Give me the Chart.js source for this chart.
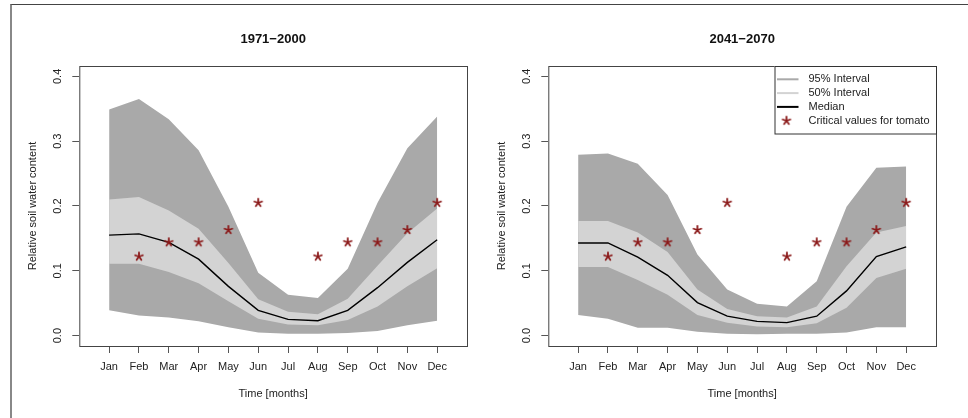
<!DOCTYPE html>
<html>
<head>
<meta charset="utf-8">
<script src="https://cdn.jsdelivr.net/npm/chart.js@4"></script>
<style>
    html, body { margin: 0; padding: 0; background: #fff; }
    body { width: 968px; height: 418px; position: relative; overflow: hidden; }
    #frame { position: absolute; left: 10px; top: 4px; width: 960px; height: 420px;
             border-top: 1px solid #444; border-left: 2px solid #888; }
    canvas { position: absolute; top: 0; }
    #left { left: 15px; }
    #right { left: 484px; }
</style>
</head>
<body>
<div id="frame"></div>
<canvas id="left" width="470" height="418"></canvas>
<canvas id="right" width="470" height="418"></canvas>
<script>
const MONTHS = ["Jan", "Feb", "Mar", "Apr", "May", "Jun", "Jul", "Aug", "Sep", "Oct", "Nov", "Dec"];
const Y_TICKS = [0, 0.1, 0.2, 0.3, 0.4];

// critical soil water values for tomato (same on both panels)
const CRITICAL = [null, 0.122, 0.144, 0.144, 0.163, 0.205, null, 0.122, 0.144, 0.144, 0.163, 0.205];

// 1971-2000
const P1_LO95 = [0.039, 0.031, 0.028, 0.022, 0.013, 0.005, 0.003, 0.003, 0.004, 0.007, 0.016, 0.023];
const P1_LO50 = [0.111, 0.111, 0.098, 0.081, 0.053, 0.026, 0.017, 0.016, 0.024, 0.045, 0.076, 0.104];
const P1_MED = [0.155, 0.157, 0.144, 0.118, 0.076, 0.039, 0.025, 0.023, 0.039, 0.074, 0.113, 0.148];
const P1_HI50 = [0.210, 0.214, 0.193, 0.165, 0.112, 0.056, 0.037, 0.033, 0.057, 0.108, 0.158, 0.196];
const P1_HI95 = [0.349, 0.365, 0.334, 0.286, 0.199, 0.097, 0.063, 0.058, 0.103, 0.205, 0.289, 0.338];

// 2041-2070
const P2_LO95 = [0.032, 0.026, 0.012, 0.012, 0.006, 0.003, 0.002, 0.003, 0.003, 0.005, 0.013, 0.013];
const P2_LO50 = [0.106, 0.106, 0.086, 0.063, 0.032, 0.020, 0.014, 0.013, 0.019, 0.043, 0.089, 0.103];
const P2_MED = [0.143, 0.143, 0.121, 0.093, 0.051, 0.030, 0.022, 0.020, 0.030, 0.069, 0.122, 0.137];
const P2_HI50 = [0.177, 0.177, 0.159, 0.129, 0.071, 0.041, 0.030, 0.028, 0.045, 0.107, 0.159, 0.169];
const P2_HI95 = [0.279, 0.281, 0.265, 0.217, 0.125, 0.071, 0.049, 0.045, 0.084, 0.199, 0.259, 0.261];

const COL95 = "#a9a9a9";
const COL50 = "#d3d3d3";
const STAR_COL = "#8b1a1a";
const FONT = "'Liberation Sans', Arial, Helvetica, sans-serif";

Chart.defaults.font.family = FONT;
Chart.defaults.color = "#222";

// five spoke asterisk like R's "*"
const makeStar = (r) => {
    const c = document.createElement("canvas");
    c.width = c.height = r * 2 + 4;
    const g = c.getContext("2d");
    g.strokeStyle = STAR_COL;
    g.lineWidth = 1.8;
    g.lineCap = "round";
    const m = r + 2;
    for (let k = 0; k < 5; k++) {
        const a = -Math.PI / 2 + k * 2 * Math.PI / 5;
        g.beginPath();
        g.moveTo(m, m);
        g.lineTo(m + r * Math.cos(a), m + r * Math.sin(a));
        g.stroke();
    }
    return c;
};
const STAR = makeStar(4);

const toXY = (arr) => arr.map((v, i) => ({ x: i + 1, y: v }));

const band = (data, color, fill, order) => ({
    data: toXY(data),
    borderWidth: 0,
    pointRadius: 0,
    backgroundColor: color,
    borderColor: color,
    fill,
    order,
});

const boxPlugin = {
    id: "box",
    afterDraw(chart, args, opts) {
        const { ctx, chartArea: a } = chart;
        ctx.save();
        ctx.strokeStyle = "#444";
        ctx.lineWidth = 1;
        ctx.strokeRect(a.left + 0.5, a.top + 0.5, a.right - a.left, a.bottom - a.top);
        ctx.fillStyle = "#111";
        ctx.font = "bold 13px " + FONT;
        ctx.textAlign = "center";
        ctx.textBaseline = "middle";
        ctx.fillText(opts.title, (a.left + a.right) / 2, 39);
        ctx.restore();
    },
};

const legendPlugin = {
    id: "boxLegend",
    afterDraw(chart, args, opts) {
        if (!opts.show) return;
        const { ctx, chartArea: a } = chart;
        const w = 161.5, h = 67.5;
        const x0 = a.right - w, y0 = a.top;
        ctx.save();
        ctx.fillStyle = "#fff";
        ctx.fillRect(x0, y0, w, h);
        ctx.strokeStyle = "#333";
        ctx.lineWidth = 1;
        ctx.strokeRect(x0 + 0.5, y0 + 0.5, w, h);
        const items = [
            { label: "95% Interval", color: COL95, lw: 2 },
            { label: "50% Interval", color: COL50, lw: 2 },
            { label: "Median", color: "#000", lw: 2 },
            { label: "Critical values for tomato", star: true },
        ];
        ctx.font = "11px " + FONT;
        ctx.textBaseline = "middle";
        items.forEach((it, i) => {
            const y = y0 + 13.3 + i * 13.8;
            if (it.star) {
                ctx.drawImage(STAR, x0 + 12 - STAR.width / 2, y - STAR.height / 2);
            } else {
                ctx.strokeStyle = it.color;
                ctx.lineWidth = it.lw;
                ctx.beginPath();
                ctx.moveTo(x0 + 2.5, y);
                ctx.lineTo(x0 + 24, y);
                ctx.stroke();
            }
            ctx.fillStyle = "#222";
            ctx.fillText(it.label, x0 + 34, y);
        });
        ctx.restore();
    },
};

const makeChart = (canvas, title, lo95, lo50, med, hi50, hi95, showLegend) => new Chart(canvas, {
    type: "line",
    data: {
        datasets: [
            band(lo95, COL95, false, 6),
            band(hi95, COL95, 0, 5),
            band(lo50, COL50, false, 4),
            band(hi50, COL50, 2, 3),
            {
                label: "Median",
                data: toXY(med),
                borderColor: "#000",
                borderWidth: 1.4,
                pointRadius: 0,
                fill: false,
                order: 2,
            },
            {
                label: "Critical values for tomato",
                data: toXY(CRITICAL),
                showLine: false,
                pointStyle: STAR,
                pointRadius: 5,
                order: 1,
            },
        ],
    },
    options: {
        responsive: false,
        animation: false,
        devicePixelRatio: 1,
        elements: { line: { tension: 0 } },
        layout: { padding: { left: 0, right: 18, top: 66, bottom: 0 } },
        plugins: {
            legend: { display: false },
            tooltip: { enabled: false },
            box: { title },
            boxLegend: { show: showLegend },
        },
        scales: {
            x: {
                type: "linear",
                min: 0,
                max: 13,
                afterBuildTicks: (s) => { s.ticks = MONTHS.map((m, i) => ({ value: i + 1 })); },
                afterFit: (s) => { s.height = 72; },
                grid: { drawOnChartArea: false, drawTicks: true, tickLength: 7, color: "#555" },
                border: { display: false },
                ticks: {
                    autoSkip: false,
                    maxRotation: 0,
                    padding: 7,
                    font: { size: 11 },
                    callback: (v) => MONTHS[v - 1],
                },
                title: {
                    display: true,
                    text: "Time [months]",
                    font: { size: 11 },
                    padding: { top: 0, bottom: 17.4 },
                },
            },
            y: {
                min: -0.016,
                max: 0.416,
                afterBuildTicks: (s) => { s.ticks = Y_TICKS.map((v) => ({ value: v })); },
                afterFit: (s) => { s.width = 64.3; },
                grid: { drawOnChartArea: false, drawTicks: true, tickLength: 7, color: "#555" },
                border: { display: false },
                ticks: {
                    minRotation: 90,
                    maxRotation: 90,
                    crossAlign: "center",
                    padding: 6.6,
                    font: { size: 11 },
                    callback: (v) => v.toFixed(1),
                },
                title: {
                    display: true,
                    text: "Relative soil water content",
                    font: { size: 11 },
                    padding: { top: 11.7, bottom: 0 },
                },
            },
        },
    },
    plugins: [boxPlugin, legendPlugin],
});

makeChart(document.getElementById("left"), "1971\u22122000",
    P1_LO95, P1_LO50, P1_MED, P1_HI50, P1_HI95, false);
makeChart(document.getElementById("right"), "2041\u22122070",
    P2_LO95, P2_LO50, P2_MED, P2_HI50, P2_HI95, true);
</script>
</body>
</html>
